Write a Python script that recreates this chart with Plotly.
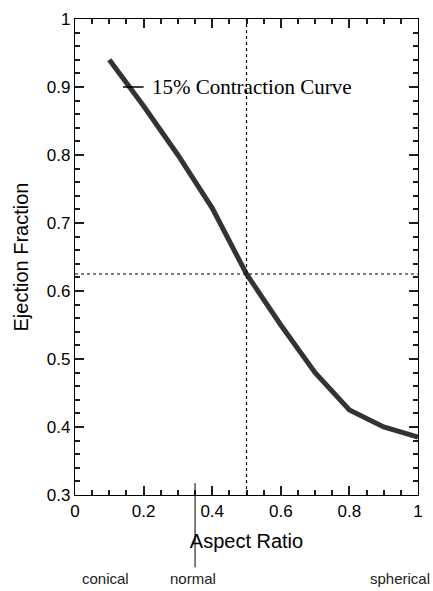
import plotly.graph_objects as go

aspect_ratio = [0.1, 0.2, 0.3, 0.4, 0.5, 0.6, 0.7, 0.8, 0.9, 1.0]
ejection_fraction = [0.94, 0.872, 0.80, 0.722, 0.625, 0.55, 0.48, 0.425, 0.40, 0.385]
ref_x = 0.5
ref_y = 0.625
normal_x = 0.35
curve_label = "15% Contraction Curve"
shape_labels = ["conical", "normal", "spherical"]

SANS = "Liberation Sans, Arial, sans-serif"
TICK = "#1f1f1f"

fig = go.Figure()
fig.add_trace(go.Scatter(x=aspect_ratio, y=ejection_fraction, mode="lines",
                         line=dict(color="#333333", width=5), showlegend=False))
# same data on overlay axes (invisible) so the tick-only overlay axes are drawn
fig.add_trace(go.Scatter(x=aspect_ratio, y=ejection_fraction, mode="lines", xaxis="x2", yaxis="y2",
                         line=dict(color="rgba(0,0,0,0)", width=0), showlegend=False, hoverinfo="skip"))

fig.add_shape(type="line", xref="x", yref="y", x0=ref_x, x1=ref_x, y0=0.3, y1=1.0,
              line=dict(color="black", width=1.2, dash="dot"))
fig.add_shape(type="line", xref="x", yref="y", x0=0, x1=1, y0=ref_y, y1=ref_y,
              line=dict(color="black", width=1.2, dash="dot"))
fig.add_shape(type="line", xref="x", yref="paper", x0=normal_x, x1=normal_x, y0=-0.152, y1=0.025,
              line=dict(color="black", width=1))
fig.add_shape(type="line", xref="x", yref="y", x0=0.14, x1=0.2, y0=0.9, y1=0.9,
              line=dict(color="black", width=1.5))
fig.add_annotation(x=0.218, y=0.9, xref="x", yref="y", text=curve_label, showarrow=False,
                   xanchor="left", yanchor="middle",
                   font=dict(family="Liberation Serif, Times New Roman, serif", size=21, color="black"))

label_x = [0.09, 0.343, 1.04]
label_anchor = ["center", "center", "right"]
for t, lx, xa in zip(shape_labels, label_x, label_anchor):
    fig.add_annotation(x=lx, y=-0.175, xref="paper", yref="paper", text=t, showarrow=False,
                       xanchor=xa, yanchor="middle",
                       font=dict(family=SANS, size=15, color="#222222"))

fig.update_layout(
    xaxis=dict(range=[0, 1], dtick=0.2, layer="above traces",
               showgrid=False, zeroline=False, showline=True, linecolor="black", linewidth=1.3,
               mirror="allticks", ticks="inside", ticklen=9, tickwidth=1.5, tickcolor=TICK,
               tickfont=dict(family=SANS, size=17, color="black"),
               minor=dict(dtick=0.05, ticks="inside", ticklen=5, tickcolor=TICK),
               title=dict(text="Aspect Ratio", standoff=14,
                          font=dict(family=SANS, size=20, color="black"))),
    yaxis=dict(range=[0.3, 1.0], dtick=0.1, layer="above traces",
               showgrid=False, zeroline=False, showline=True, linecolor="black", linewidth=1.3,
               mirror="allticks", ticks="inside", ticklen=9, tickwidth=1.5, tickcolor=TICK,
               tickfont=dict(family=SANS, size=17, color="black"),
               minor=dict(dtick=0.02, ticks="inside", ticklen=5, tickcolor=TICK),
               title=dict(text="Ejection Fraction", standoff=12,
                          font=dict(family=SANS, size=20, color="black"))),
    xaxis2=dict(range=[0, 1], dtick=0.2, overlaying="x", anchor="y2", side="bottom",
                layer="above traces", showgrid=False, showline=True, linecolor="black",
                mirror="allticks", ticks="inside", ticklen=9, tickwidth=1.5, tickcolor=TICK,
                showticklabels=False,
                minor=dict(dtick=0.05, ticks="inside", ticklen=5, tickcolor=TICK)),
    yaxis2=dict(range=[0.3, 1.0], dtick=0.1, overlaying="y", anchor="x2", side="left",
                layer="above traces", showgrid=False, showline=True, linecolor="black",
                mirror="allticks", ticks="inside", ticklen=9, tickwidth=1.5, tickcolor=TICK,
                showticklabels=False,
                minor=dict(dtick=0.02, ticks="inside", ticklen=5, tickcolor=TICK)),
    width=433, height=591, margin=dict(l=75, r=10, t=14, b=96),
    plot_bgcolor="rgba(0,0,0,0)", paper_bgcolor="white")

fig.write_html("out.html")
